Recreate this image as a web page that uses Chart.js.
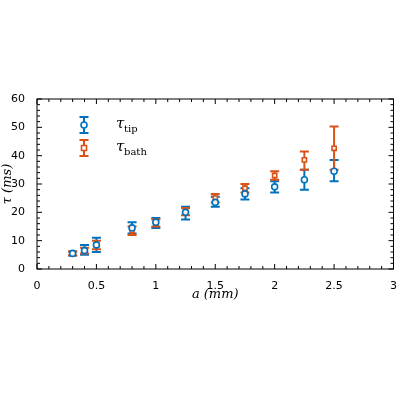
<!DOCTYPE html>
<html>
<head>
<meta charset="utf-8">
<script src="https://cdn.jsdelivr.net/npm/chart.js@4"></script>
<style>
  body { margin: 0; background: #fff; }
  #wrap { width: 400px; height: 400px; }
</style>
</head>
<body>
<div id="wrap"><canvas id="c" width="400" height="400"></canvas></div>
<script>
// Data
const aTip = [0.3, 0.4, 0.5, 0.8, 1.0, 1.25, 1.5, 1.75, 2.0, 2.25, 2.5];
const tauTip = [5.5, 6.5, 8.5, 14.5, 16.5, 20, 23.5, 26.5, 29, 31.5, 34.5];
const tipLo = [4.8, 5.0, 6.0, 12.5, 14.5, 17.5, 22.0, 24.5, 27.0, 28.0, 31.0];
const tipHi = [6.2, 8.5, 11.0, 16.5, 18.0, 22.0, 25.5, 28.5, 31.0, 35.0, 38.5];

const aBath = [0.3, 0.4, 0.5, 0.8, 1.0, 1.25, 1.5, 1.75, 2.0, 2.25, 2.5];
const tauBath = [5.5, 6.5, 8.5, 13.5, 16.2, 20.5, 25, 28.5, 33, 38.5, 42.6];
const bathLo = [4.8, 5.5, 7.0, 12.0, 15.0, 19.0, 23.5, 27.0, 31.5, 35.0, 35.0];
const bathHi = [6.2, 7.5, 10.0, 15.0, 17.5, 21.5, 26.5, 30.0, 34.5, 41.5, 50.3];

const xTicks = [0, 0.5, 1, 1.5, 2, 2.5, 3];
const yTicks = [0, 10, 20, 30, 40, 50, 60];

const blue = '#0072BD';
const orange = '#D95319';

function pts(xs, ys) {
    return xs.map((x, i) => ({ x: x, y: ys[i] }));
}

const errorBars = {
    id: 'errorBars',
    beforeDatasetsDraw(chart) {
        const ctx = chart.ctx;
        const xs = chart.scales.x, ys = chart.scales.y;
        const sets = [[aTip, tipLo, tipHi, blue], [aBath, bathLo, bathHi, orange]];
        ctx.save();
        ctx.lineWidth = 2;
        sets.forEach(s => {
            ctx.strokeStyle = s[3];
            s[0].forEach((a, i) => {
                const px = xs.getPixelForValue(a);
                const lo = ys.getPixelForValue(s[1][i]);
                const hi = ys.getPixelForValue(s[2][i]);
                ctx.beginPath();
                ctx.moveTo(px, lo); ctx.lineTo(px, hi);
                ctx.moveTo(px - 4.5, lo); ctx.lineTo(px + 4.5, lo);
                ctx.moveTo(px - 4.5, hi); ctx.lineTo(px + 4.5, hi);
                ctx.stroke();
            });
        });
        ctx.restore();
    },
    afterDraw(chart) {
        const ctx = chart.ctx;
        const area = chart.chartArea;
        const xs = chart.scales.x, ys = chart.scales.y;
        ctx.save();
        ctx.strokeStyle = '#000';
        ctx.lineWidth = 1;
        ctx.strokeRect(area.left, area.top, area.right - area.left, area.bottom - area.top);
        // inward ticks on all sides
        ctx.beginPath();
        for (let v = 0; v <= 3.0001; v += 0.1) {
            const px = xs.getPixelForValue(v);
            const major = Math.abs(v * 2 - Math.round(v * 2)) < 1e-6;
            const len = major ? 5 : 3;
            ctx.moveTo(px, area.bottom); ctx.lineTo(px, area.bottom - len);
            ctx.moveTo(px, area.top); ctx.lineTo(px, area.top + len);
        }
        for (let v = 0; v <= 60; v += 2) {
            const py = ys.getPixelForValue(v);
            const len = v % 10 === 0 ? 5 : 3;
            ctx.moveTo(area.left, py); ctx.lineTo(area.left + len, py);
            ctx.moveTo(area.right, py); ctx.lineTo(area.right - len, py);
        }
        ctx.stroke();

        // legend
        const lx = area.left + 47, ly1 = area.top + 26, ly2 = area.top + 49;
        ctx.lineWidth = 2;
        [[ly1, blue, 'tip', 'circle'], [ly2, orange, 'bath', 'rect']].forEach(l => {
            const y = l[0];
            ctx.strokeStyle = l[1];
            ctx.beginPath();
            ctx.moveTo(lx, y - 8); ctx.lineTo(lx, y + 8);
            ctx.moveTo(lx - 4.5, y - 8); ctx.lineTo(lx + 4.5, y - 8);
            ctx.moveTo(lx - 4.5, y + 8); ctx.lineTo(lx + 4.5, y + 8);
            ctx.stroke();
            ctx.fillStyle = '#fff';
            ctx.lineWidth = 1.6;
            ctx.beginPath();
            if (l[3] === 'circle') ctx.arc(lx, y, 3, 0, Math.PI * 2);
            else ctx.rect(lx - 2.5, y - 2.5, 5, 5);
            ctx.fill(); ctx.stroke();
            ctx.lineWidth = 2;
            ctx.fillStyle = '#000';
            ctx.font = 'italic 15px "DejaVu Serif", serif';
            ctx.textBaseline = 'middle';
            ctx.fillText('\u03C4', lx + 32, y - 1);
            ctx.font = '10px "DejaVu Serif", serif';
            ctx.fillText(l[2], lx + 40, y + 4);
        });
        ctx.restore();
    }
};

new Chart(document.getElementById('c'), {
    type: 'scatter',
    data: {
        datasets: [{
            label: 'tip',
            data: pts(aTip, tauTip),
            borderColor: blue,
            backgroundColor: 'rgba(255,255,255,0.9)',
            pointStyle: 'circle',
            pointRadius: 3,
            borderWidth: 1.6
        }, {
            label: 'bath',
            data: pts(aBath, tauBath),
            borderColor: orange,
            backgroundColor: 'rgba(255,255,255,0.9)',
            pointStyle: 'rect',
            pointRadius: 3,
            borderWidth: 1.6
        }]
    },
    options: {
        responsive: false,
        animation: false,
        layout: { padding: { top: 99, right: 4, left: 0, bottom: 98 } },
        plugins: { legend: { display: false }, tooltip: { enabled: false } },
        scales: {
            x: {
                type: 'linear', min: 0, max: 3,
                afterBuildTicks: s => { s.ticks = xTicks.map(v => ({ value: v })); },
                afterFit: s => { s.height = 33; },
                grid: { display: false },
                border: { display: false },
                ticks: { color: '#000', font: { family: 'DejaVu Sans', size: 11 }, padding: 3, callback: v => String(v) },
                title: { display: true, text: 'a (mm)', color: '#000', font: { family: 'DejaVu Serif', size: 13, style: 'italic' }, padding: 0 }
            },
            y: {
                min: 0, max: 60,
                afterBuildTicks: s => { s.ticks = yTicks.map(v => ({ value: v })); },
                afterFit: s => { s.width = 37; },
                grid: { display: false },
                border: { display: false },
                ticks: { color: '#000', font: { family: 'DejaVu Sans', size: 11 }, padding: 4, callback: v => String(v) },
                title: { display: true, text: '\u03C4 (ms)', color: '#000', font: { family: 'DejaVu Serif', size: 13, style: 'italic' }, padding: 0 }
            }
        }
    },
    plugins: [errorBars]
});
</script>
</body>
</html>
